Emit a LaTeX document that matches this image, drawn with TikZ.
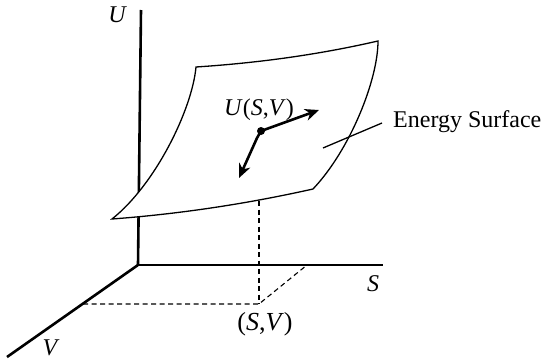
\documentclass[tikz,border=0pt]{standalone}
\usepackage{fontspec}
\setmainfont{Liberation Serif}
\usetikzlibrary{arrows.meta}
\begin{document}
\begin{tikzpicture}[x=1pt,y=-1pt,
  axis/.style={line width=2.6pt},
  surf/.style={line width=1.3pt},
  dashline/.style={line width=1.1pt,dash pattern=on 5pt off 3.5pt},
  vec/.style={line width=2.6pt,-{Stealth[length=14pt,width=12pt]}},
  lab/.style={font=\fontsize{24}{28}\selectfont,inner sep=0pt}]
\useasboundingbox (0,0) rectangle (542,362);
% axes
\coordinate (O) at (138,265);
\coordinate (Utop) at (141,10);
\coordinate (Send) at (383,265);
\coordinate (Vend) at (7,357);
\draw[axis] (O) -- (Utop);
\draw[axis] (O) -- (Send);
\draw[axis] (O) -- (Vend);
% surface corners
\coordinate (A) at (196,67);
\coordinate (B) at (378,41);
\coordinate (C) at (313,189);
\coordinate (D) at (112,219);
\draw[surf,fill=white] (A) .. controls (257,63) and (317,55) .. (B)
  .. controls (378,80) and (350,150) .. (C)
  .. controls (246,204) and (179,214) .. (D)
  .. controls (155,185) and (192,110) .. (A) -- cycle;
% dashed projection
\coordinate (P) at (259,201);
\coordinate (Q) at (259,304);
\coordinate (Vp) at (83,304);
\coordinate (Sp) at (307,265);
\draw[dashline] (P) -- (Q);
\draw[dashline] (Vp) -- (Q) -- (Sp);
% point and vectors
\coordinate (pt) at (261,131);
\coordinate (t1) at (319,110);
\coordinate (k) at (257,138);
\coordinate (t2) at (239,178);
\draw[vec] (pt) -- (t1);
\draw[vec] (pt) -- (k) -- (t2);
\fill (pt) circle (4pt);
% labels
\node[lab] (lu) at (117,15) {\itshape U};
\node[lab] (ls) at (373,284) {\itshape S};
\node[lab] (lv) at (50,348) {\itshape V};
\node[lab,font=\fontsize{26}{30}\selectfont] (lsv) at (265,324) {(\textit{S},\textit{V})};
\node[lab] (lusv) at (259,110) {\textit{U}(\textit{S},\textit{V})};
\node[lab,anchor=west] (les) at (393,122) {Energy Surface};
\coordinate (lead) at (323,148);
\coordinate (leadend) at (382,123);
\draw[surf] (lead) -- (leadend);
\end{tikzpicture}
\end{document}
